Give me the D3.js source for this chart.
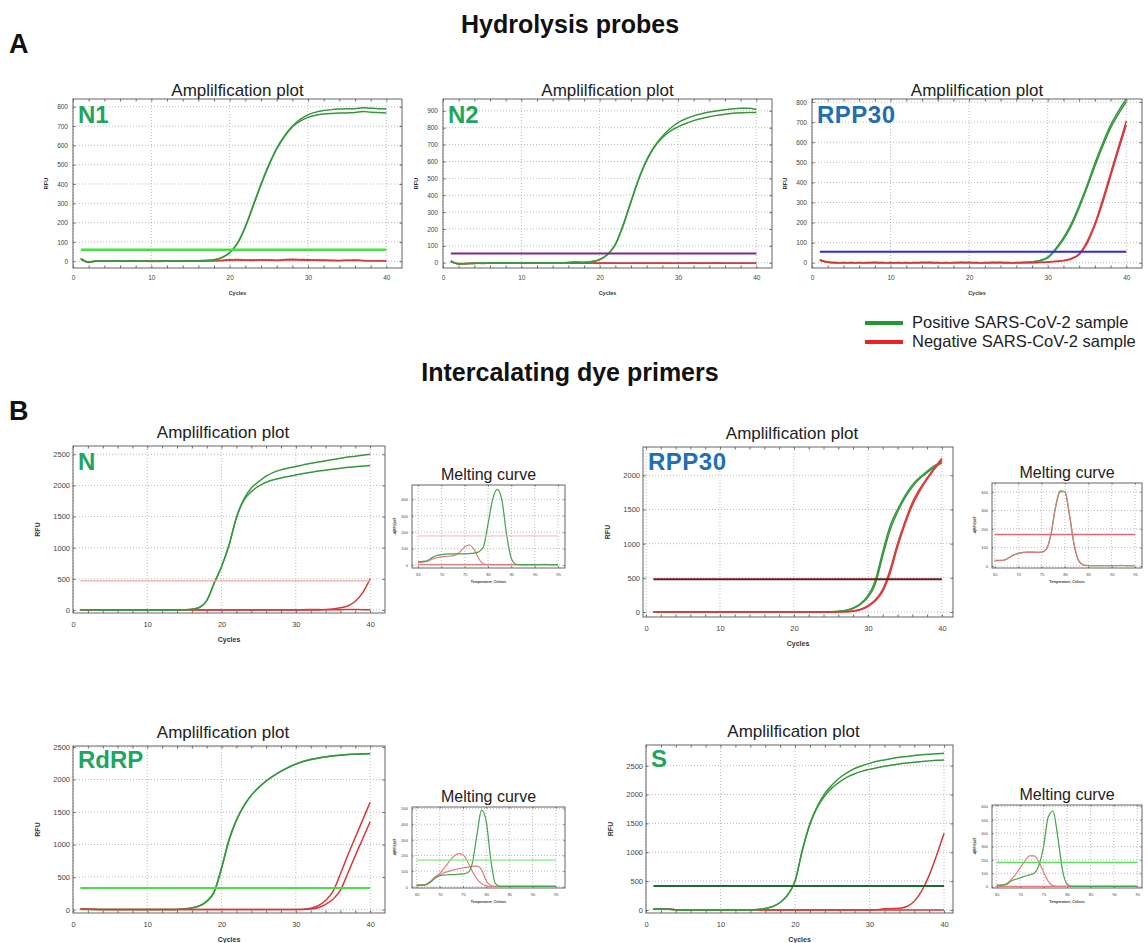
<!DOCTYPE html>
<html>
<head>
<meta charset="utf-8">
<script src="https://cdn.jsdelivr.net/npm/d3@7"></script>
<style>
  body { margin: 0; background: #fff; }
  svg { display: block; font-family: "Liberation Sans", Arial, sans-serif; }
</style>
</head>
<body>
<svg id="fig"></svg>
<script>
// figure size
const width = 1148;
const height = 943;

// x values
const cycles = [1,2,3,4,5,6,7,8,9,10,11,12,13,14,15,16,17,18,19,20,
  21,22,23,24,25,26,27,28,29,30,31,32,33,34,35,36,37,38,39,40];
const meltTemps = [65,66,67,68,69,70,71,72,73,74,75,76,77,78,79,80,
  81,82,83,84,85,86,87,88,89,90,91,92,93,94,95];

// tick labels
const cycleTicks = [0, 10, 20, 30, 40];
const cycleMinor = [0,2,4,6,8,10,12,14,16,18,20,22,24,26,28,30,32,34,36,38,40];
const tempTicks = [65, 70, 75, 80, 85, 90, 95];
const rfuTicks800 = [0,100,200,300,400,500,600,700,800];
const rfuTicks900 = [0,100,200,300,400,500,600,700,800,900];
const rfuTicks2000 = [0,500,1000,1500,2000];
const rfuTicks2500 = [0,500,1000,1500,2000,2500];
const meltTicks400 = [0,100,200,300,400];
const meltTicks500 = [0,100,200,300,400,500];
const meltTicks600 = [0,100,200,300,400,500,600];

// ---- A: hydrolysis probes (RFU per cycle) ----
const n1Pos1 = [15,-4,2,0,1,2,0,3,1,0,1,2,1,3,2,3,4,8,20,45,95,180,290,400,500,585,650,700,735,758,772,780,785,788,790,790,795,792,790,788];
const n1Pos2 = [12,-6,1,0,2,1,1,2,0,1,0,1,2,2,3,2,4,7,19,43,92,176,285,395,495,580,645,695,725,745,756,762,765,767,768,770,775,772,770,768];
const n1Neg1 = [12,-5,1,0,1,0,2,1,0,-1,0,1,0,1,0,1,2,3,5,8,9,7,6,8,7,5,9,10,9,8,7,6,5,4,5,6,4,3,3,2];
const n1Neg2 = [10,-3,0,1,0,1,0,0,1,0,-1,0,1,0,1,0,1,2,3,5,6,5,4,6,5,4,6,7,6,5,5,4,3,3,4,4,3,2,2,1];

const n2Pos1 = [12,-8,-5,-3,-2,-3,-2,-1,-2,-1,-2,-2,-1,-1,0,2,5,2,8,20,50,110,225,365,500,610,690,750,795,830,853,870,883,893,900,907,912,915,915,908];
const n2Pos2 = [10,-7,-6,-4,-3,-2,-2,-2,-1,-2,-1,-1,-2,-1,0,1,4,3,7,18,48,106,220,360,495,605,685,740,780,805,825,842,855,865,873,880,885,888,890,890];
const n2Neg1 = [8,-6,-5,-4,-3,-3,-2,-3,-2,-2,-3,-2,-2,-3,-2,-2,-1,-2,-1,-2,-1,-2,-3,-2,-1,-2,-2,-1,-2,-3,-2,-1,-2,-2,-1,-2,-3,-2,-2,-3];
const n2Neg2 = [6,-5,-4,-3,-4,-2,-3,-2,-3,-3,-2,-3,-3,-2,-3,-3,-2,-3,-2,-3,-2,-3,-2,-3,-2,-3,-3,-2,-3,-2,-3,-2,-3,-3,-2,-3,-2,-3,-3,-2];

const rpA_Pos1 = [14,2,0,1,0,1,0,2,1,0,1,0,1,2,1,0,1,0,2,1,0,1,2,1,0,1,2,5,12,28,70,125,195,285,385,495,595,685,755,815];
const rpA_Pos2 = [12,3,1,0,1,0,1,1,0,1,0,1,0,1,2,1,0,1,1,2,1,0,1,2,1,0,1,4,10,24,63,115,183,273,373,480,580,670,740,800];
const rpA_Neg1 = [13,3,0,1,0,1,0,1,0,1,0,1,0,1,0,1,0,1,0,1,0,1,0,1,0,1,0,1,2,4,7,12,22,45,105,195,315,445,575,705];
const rpA_Neg2 = [15,4,1,0,1,0,1,0,1,0,1,0,1,0,1,0,1,0,1,0,1,0,1,0,1,0,1,0,1,3,6,10,19,40,95,185,300,430,560,685];

// ---- B: intercalating dye primers ----
const nPos1 = [5,3,2,1,0,1,0,1,0,1,0,1,0,2,5,12,40,150,430,700,1040,1490,1780,1960,2060,2150,2210,2250,2280,2305,2330,2355,2375,2395,2415,2435,2455,2470,2485,2500];
const nPos2 = [5,3,2,1,0,1,0,1,0,1,0,1,0,2,5,12,40,150,430,700,1040,1480,1760,1900,1990,2050,2090,2120,2145,2168,2190,2210,2230,2245,2260,2275,2290,2300,2310,2318];
const nNeg1 = [3,2,1,0,1,0,-1,0,1,0,-1,0,1,0,1,0,-1,0,1,0,-1,0,1,0,-1,0,1,0,-1,0,1,0,2,8,18,35,65,140,280,500];
const nNeg2 = [4,2,1,0,-1,0,1,0,-1,0,1,0,-1,0,1,2,3,2,1,0,2,4,3,2,5,6,4,3,2,4,6,8,7,5,4,6,8,7,6,5];

const rpB_Pos1 = [5,3,1,0,0,0,0,0,0,0,0,0,0,0,0,0,0,0,0,0,0,0,0,0,2,10,25,60,125,240,460,880,1260,1500,1700,1860,1970,2060,2140,2200];
const rpB_Pos2 = [4,3,1,0,0,0,0,0,0,0,0,0,0,0,0,0,0,0,0,0,0,0,0,0,1,8,20,50,110,215,410,820,1200,1460,1670,1830,1950,2040,2120,2180];
const rpB_Neg1 = [3,2,1,0,0,0,0,0,0,0,0,0,0,0,0,0,0,0,0,0,0,0,0,0,0,2,5,15,40,95,180,330,620,1000,1320,1600,1800,1960,2110,2250];
const rpB_Neg2 = [3,2,1,0,0,0,0,0,0,0,0,0,0,0,0,0,0,0,0,0,0,0,0,0,0,1,4,12,32,80,160,300,570,950,1280,1560,1770,1940,2090,2220];

const rdPos1 = [5,4,3,2,1,0,1,0,1,0,0,1,0,3,12,28,60,130,280,650,1080,1380,1600,1760,1880,1980,2060,2130,2190,2240,2280,2310,2330,2350,2365,2375,2385,2390,2395,2398];
const rdPos2 = [4,3,2,1,0,0,1,0,0,1,0,0,1,2,10,25,55,122,265,630,1060,1370,1590,1755,1875,1975,2055,2125,2185,2235,2275,2305,2328,2347,2362,2373,2383,2388,2393,2396];
const rdNeg1 = [8,6,4,2,1,0,0,0,0,0,0,0,0,0,0,0,0,0,0,0,0,0,0,0,0,0,0,0,0,2,5,20,60,140,280,550,840,1110,1380,1650];
const rdNeg2 = [6,5,3,2,1,0,0,0,0,0,0,0,0,0,0,0,0,0,0,0,0,0,0,0,0,0,0,0,0,1,3,10,30,80,160,300,560,830,1090,1350];

const sPos1 = [20,18,15,5,0,1,0,1,0,1,0,1,0,2,10,25,60,130,260,500,1050,1500,1800,2020,2170,2290,2380,2450,2500,2540,2575,2600,2625,2645,2660,2675,2688,2698,2706,2713];
const sPos2 = [18,16,14,4,0,0,1,0,1,0,1,0,1,2,10,25,60,130,260,500,1040,1480,1780,1980,2120,2220,2300,2360,2405,2436,2465,2490,2510,2530,2545,2560,2572,2583,2592,2598];
const sNeg1 = [20,20,18,5,0,0,0,0,0,0,0,0,0,0,0,0,0,0,0,0,0,0,0,0,0,0,0,0,0,0,5,20,25,30,60,150,330,600,950,1330];
const sNeg2 = [15,14,12,4,0,0,0,0,0,0,0,0,0,0,0,0,0,0,0,0,0,0,0,0,0,0,0,0,0,0,0,0,0,0,0,0,0,0,0,0];

// melting curves, -d(RFU)/dT per degree 65..95
const nMeltPos = [20,22,28,45,58,63,66,68,68,68,68,70,72,80,110,250,400,460,390,180,40,5,2,2,3,2,3,4,3,2,2];
const nMeltNeg1 = [15,18,22,35,45,50,52,55,60,80,110,122,95,40,8,2,2,2,2,2,2,2,2,2,3,2,2,3,2,2,2];
const nMeltNeg2 = [3,3,2,2,2,2,2,2,2,2,2,2,2,2,2,2,2,2,2,2,2,2,2,2,2,2,2,2,2,2,2];

const rpMeltPos = [30,30,32,45,60,68,73,75,75,74,75,90,170,320,405,400,270,110,25,5,2,2,2,2,2,2,2,3,2,2,2];
const rpMeltNeg = [28,29,31,43,58,66,72,74,74,73,74,88,165,315,400,402,275,115,28,6,2,2,2,2,2,2,2,2,2,2,2];

const rdMeltPos = [10,10,12,30,55,70,75,77,78,80,82,90,150,330,490,420,170,20,3,2,2,2,2,2,2,2,2,2,2,2,2];
const rdMeltNeg1 = [10,10,15,35,65,85,120,160,195,212,205,160,100,50,20,6,2,2,2,2,2,2,2,2,2,2,2,2,2,2,2];
const rdMeltNeg2 = [10,10,14,32,60,78,90,100,108,115,120,125,130,132,110,40,8,2,2,2,2,2,2,2,2,2,2,2,2,2,2];

const sMeltPos = [10,12,15,40,55,65,78,88,100,160,300,520,565,380,130,20,3,2,2,2,2,2,2,2,2,2,2,2,2,2,2];
const sMeltNeg1 = [10,12,20,50,90,140,190,230,230,185,110,40,8,2,2,2,2,2,2,2,2,2,2,2,2,2,2,2,2,2,2];
const sMeltNeg2 = [2,2,2,2,2,2,2,2,2,2,2,2,2,2,2,2,2,2,2,2,2,2,2,2,2,2,2,2,2,2,2];

// thresholds
const thrN1 = 60, thrN2 = 55, thrRpA = 55;
const thrN = 468, thrRpB = 478, thrRd = 333, thrS = 416;
const thrMeltN = 177, thrMeltRp = 170, thrMeltRd = 170, thrMeltS = 181;

const green = "#1fa65e";
const blue = "#1f6fb2";

const svg = d3.select("#fig").attr("width", width).attr("height", height);
svg.append("rect").attr("width", width).attr("height", height).attr("fill", "#fff");

const drawPlot = (p) => {
  const [bx, by, bw, bh] = p.box;
  const x = d3.scaleLinear().domain(p.xDom).range([bx, bx + bw]);
  const y = d3.scaleLinear().domain(p.yDom).range([by + bh, by]);
  const g = svg.append("g");

  // dotted grid
  g.append("g").selectAll("line").data(p.xTicks).join("line")
    .attr("x1", (d) => x(d)).attr("x2", (d) => x(d))
    .attr("y1", by).attr("y2", by + bh)
    .attr("stroke", "#9c9c9c").attr("stroke-width", 0.7).attr("stroke-dasharray", "1,2");
  g.append("g").selectAll("line").data(p.yTicks).join("line")
    .attr("x1", bx).attr("x2", bx + bw)
    .attr("y1", (d) => y(d)).attr("y2", (d) => y(d))
    .attr("stroke", "#9c9c9c").attr("stroke-width", 0.7).attr("stroke-dasharray", "1,2");

  // small tick marks round the frame
  const minor = (sel) => {
    sel.select(".domain").remove();
    sel.selectAll("line").attr("stroke", "#444").attr("stroke-width", 0.8);
  };
  g.append("g").attr("transform", "translate(0," + (by + bh) + ")")
    .call(d3.axisBottom(x).tickValues(p.xMinor).tickSize(-p.tick).tickFormat("")).call(minor);
  g.append("g").attr("transform", "translate(0," + by + ")")
    .call(d3.axisTop(x).tickValues(p.xMinor).tickSize(-p.tick).tickFormat("")).call(minor);
  g.append("g").attr("transform", "translate(" + bx + ",0)")
    .call(d3.axisLeft(y).tickValues(p.yTicks).tickSize(-p.tick).tickFormat("")).call(minor);
  g.append("g").attr("transform", "translate(" + (bx + bw) + ",0)")
    .call(d3.axisRight(y).tickValues(p.yTicks).tickSize(-p.tick).tickFormat("")).call(minor);

  // tick labels
  const labels = (sel) => {
    sel.select(".domain").remove();
    sel.selectAll("text").attr("font-size", p.fs).attr("fill", "#444")
      .attr("font-family", "'Liberation Sans', Arial, sans-serif");
  };
  g.append("g").attr("transform", "translate(0," + (by + bh) + ")")
    .call(d3.axisBottom(x).tickValues(p.xTicks).tickSize(0).tickPadding(p.xPad)
      .tickFormat(d3.format("d"))).call(labels);
  g.append("g").attr("transform", "translate(" + bx + ",0)")
    .call(d3.axisLeft(y).tickValues(p.yTicks).tickSize(0).tickPadding(p.yPad)
      .tickFormat(d3.format("d"))).call(labels);

  // curves
  const line = d3.line()
    .x((d, i) => x(p.xs[i]))
    .y((d) => y(d))
    .curve(d3.curveMonotoneX);
  p.series.forEach((s) => {
    const pos = s.kind === "pos";
    g.append("path").attr("d", line(s.data)).attr("fill", "none")
      .attr("stroke", pos ? p.posColor : p.negColor)
      .attr("stroke-width", p.lw);
    g.append("path").attr("d", line(s.data)).attr("fill", "none")
      .attr("stroke", pos ? "#163a1e" : "#7a1616")
      .attr("stroke-opacity", p.coreOpacity)
      .attr("stroke-width", 0.5);
  });

  // threshold
  g.append("line")
    .attr("x1", x(p.thr.from)).attr("x2", x(p.thr.to))
    .attr("y1", y(p.thr.value)).attr("y2", y(p.thr.value))
    .attr("stroke", p.thr.color).attr("stroke-width", p.thr.width);

  // frame
  g.append("rect").attr("x", bx).attr("y", by).attr("width", bw).attr("height", bh)
    .attr("fill", "none").attr("stroke", "#666").attr("stroke-width", 1);

  // titles and labels
  g.append("text").attr("x", bx + bw / 2 + p.titleDx).attr("y", by - p.titleDy)
    .attr("text-anchor", "middle").attr("font-size", p.titleSize).attr("fill", "#222")
    .text(p.title);
  g.append("text").attr("x", bx + bw / 2).attr("y", by + bh + p.xLabDy)
    .attr("text-anchor", "middle").attr("font-size", p.labSize).attr("font-weight", "bold")
    .attr("fill", "#333").text(p.xLabel);
  g.append("text")
    .attr("transform", "translate(" + (bx - p.yLabDx) + "," + (by + bh / 2) + ") rotate(-90)")
    .attr("text-anchor", "middle").attr("font-size", p.labSize).attr("font-weight", "bold")
    .attr("fill", "#333").text(p.yLabel);

  if (p.gene) {
    g.append("text").attr("x", bx + 5).attr("y", by + p.gene.dy)
      .attr("font-size", 24).attr("font-weight", "bold").attr("fill", p.gene.color)
      .attr("letter-spacing", p.gene.ls || 0)
      .text(p.gene.text);
  }
};

const ampBase = {
  xs: cycles, xTicks: cycleTicks, xMinor: cycleMinor, tick: 2.5,
  title: "Amplilfication plot", xLabel: "Cycles", yLabel: "RFU",
  posColor: "#46b04c", negColor: "#ec4848", lw: 1.5, coreOpacity: 0.6,
};

const ampA = Object.assign({}, ampBase, {
  fs: 6.5, xPad: 7, yPad: 5, titleSize: 17, titleDx: 0, titleDy: 3, labSize: 5.5,
  xLabDy: 27, yLabDx: 25,
});
const ampB = Object.assign({}, ampBase, {
  fs: 7.5, xPad: 9, yPad: 3, titleSize: 17, titleDx: -6, titleDy: 8, labSize: 7,
  xLabDy: 29, yLabDx: 33,
});
const meltBase = {
  xs: meltTemps, xTicks: tempTicks, xMinor: tempTicks, tick: 1.5,
  title: "Melting curve", xLabel: "Temperature, Celsius", yLabel: "-d(RFU)/dT",
  fs: 4, xPad: 5, yPad: 4, titleSize: 16, titleDx: 0, titleDy: 5, labSize: 3.5,
  xLabDy: 15, yLabDx: 16, posColor: "#52b55a", negColor: "#f29090", lw: 1.2, coreOpacity: 0.35,
};

// Panel A
drawPlot(Object.assign({}, ampA, {
  box: [73, 99, 329, 169], xDom: [0, 42], yDom: [-35, 840], yTicks: rfuTicks800,
  series: [{ data: n1Neg1, kind: "neg" }, { data: n1Neg2, kind: "neg" },
           { data: n1Pos1, kind: "pos" }, { data: n1Pos2, kind: "pos" }],
  thr: { value: thrN1, color: "#45e045", width: 2.5, from: 1, to: 40 },
  gene: { text: "N1", color: green, dy: 24 },
}));
drawPlot(Object.assign({}, ampA, {
  box: [443, 99, 329, 169], xDom: [0, 42], yDom: [-31, 970], yTicks: rfuTicks900,
  series: [{ data: n2Neg1, kind: "neg" }, { data: n2Neg2, kind: "neg" },
           { data: n2Pos1, kind: "pos" }, { data: n2Pos2, kind: "pos" }],
  thr: { value: thrN2, color: "#7a2a8c", width: 2, from: 1, to: 40 },
  gene: { text: "N2", color: green, dy: 24 },
}));
drawPlot(Object.assign({}, ampA, {
  box: [812, 99, 330, 169], xDom: [0, 42], yDom: [-26, 815], yTicks: rfuTicks800,
  series: [{ data: rpA_Pos1, kind: "pos" }, { data: rpA_Pos2, kind: "pos" },
           { data: rpA_Neg1, kind: "neg" }, { data: rpA_Neg2, kind: "neg" }],
  thr: { value: thrRpA, color: "#2a2ae0", width: 2, from: 1, to: 40 },
  gene: { text: "RPP30", color: blue, dy: 24, ls: 0.5 },
}));

// Panel B amplification
drawPlot(Object.assign({}, ampB, {
  box: [73, 446, 312, 167], xDom: [0, 42], yDom: [-48, 2633], yTicks: rfuTicks2500,
  series: [{ data: nNeg2, kind: "neg" }, { data: nNeg1, kind: "neg" },
           { data: nPos1, kind: "pos" }, { data: nPos2, kind: "pos" }],
  thr: { value: thrN, color: "#f5a8a8", width: 1.3, from: 1, to: 40 },
  gene: { text: "N", color: green, dy: 24 },
}));
drawPlot(Object.assign({}, ampB, {
  box: [643, 447, 310, 170], xDom: [-0.4, 41.5], yDom: [-73, 2414], yTicks: rfuTicks2000,
  series: [{ data: rpB_Pos1, kind: "pos" }, { data: rpB_Pos2, kind: "pos" },
           { data: rpB_Neg1, kind: "neg" }, { data: rpB_Neg2, kind: "neg" }],
  thr: { value: thrRpB, color: "#6e1a1a", width: 2, from: 1, to: 40 },
  gene: { text: "RPP30", color: blue, dy: 23, ls: 0.5 },
}));
drawPlot(Object.assign({}, ampB, {
  box: [73, 746, 312, 167], xDom: [0, 42], yDom: [-52, 2515], yTicks: rfuTicks2500,
  series: [{ data: rdPos1, kind: "pos" }, { data: rdPos2, kind: "pos" },
           { data: rdNeg1, kind: "neg" }, { data: rdNeg2, kind: "neg" }],
  thr: { value: thrRd, color: "#45e045", width: 2, from: 1, to: 40 },
  gene: { text: "RdRP", color: green, dy: 22 },
}));
drawPlot(Object.assign({}, ampB, {
  box: [646, 745, 307, 168], xDom: [0, 41.2], yDom: [-52, 2858], yTicks: rfuTicks2500,
  series: [{ data: sNeg2, kind: "neg" }, { data: sNeg1, kind: "neg" },
           { data: sPos1, kind: "pos" }, { data: sPos2, kind: "pos" }],
  thr: { value: thrS, color: "#1e6a2c", width: 2, from: 1, to: 40 },
  gene: { text: "S", color: green, dy: 22 },
}));

// Panel B melting curves
drawPlot(Object.assign({}, meltBase, {
  box: [412, 485, 153, 83], xDom: [63.7, 96.5], yDom: [-18, 487], yTicks: meltTicks400,
  series: [{ data: nMeltNeg2, kind: "neg" }, { data: nMeltNeg1, kind: "neg" },
           { data: nMeltPos, kind: "pos" }],
  thr: { value: thrMeltN, color: "#f7b8b8", width: 1, from: 65, to: 95 },
}));
drawPlot(Object.assign({}, meltBase, {
  box: [992, 483, 150, 85], xDom: [64.4, 96.5], yDom: [-11, 448], yTicks: meltTicks400,
  series: [{ data: rpMeltPos, kind: "pos" }, { data: rpMeltNeg, kind: "neg" }],
  thr: { value: thrMeltRp, color: "#e26a6a", width: 1.4, from: 65, to: 95 },
}));
drawPlot(Object.assign({}, meltBase, {
  box: [412, 807, 153, 81], xDom: [64, 97], yDom: [-8, 510], yTicks: meltTicks500,
  series: [{ data: rdMeltNeg2, kind: "neg" }, { data: rdMeltNeg1, kind: "neg" },
           { data: rdMeltPos, kind: "pos" }],
  thr: { value: thrMeltRd, color: "#86e486", width: 1.4, from: 65, to: 95 },
}));
drawPlot(Object.assign({}, meltBase, {
  box: [992, 805, 150, 83], xDom: [64, 96], yDom: [-10, 610], yTicks: meltTicks600,
  series: [{ data: sMeltNeg2, kind: "neg" }, { data: sMeltNeg1, kind: "neg" },
           { data: sMeltPos, kind: "pos" }],
  thr: { value: thrMeltS, color: "#62d862", width: 1.5, from: 65, to: 95 },
}));

// headings
const heading = (txt, xx, yy, size, anchor) =>
  svg.append("text").attr("x", xx).attr("y", yy).attr("font-size", size)
    .attr("font-weight", "bold").attr("fill", "#111").attr("text-anchor", anchor).text(txt);
heading("Hydrolysis probes", 570, 33, 25, "middle");
heading("Intercalating dye primers", 570, 381, 25, "middle");
heading("A", 9, 53, 27, "start");
heading("B", 9, 420, 27, "start");

// legend
const legendItems = [
  { label: "Positive SARS-CoV-2 sample", color: "#1e9a2e" },
  { label: "Negative SARS-CoV-2 sample", color: "#ee2222" },
];
const legend = svg.append("g");
legend.selectAll("line").data(legendItems).join("line")
  .attr("x1", 865).attr("x2", 903)
  .attr("y1", (d, i) => 323 + i * 19).attr("y2", (d, i) => 323 + i * 19)
  .attr("stroke", (d) => d.color).attr("stroke-width", 4);
legend.selectAll("text").data(legendItems).join("text")
  .attr("x", 912).attr("y", (d, i) => 328 + i * 19)
  .attr("font-size", 16.5).attr("fill", "#222").text((d) => d.label);
</script>
</body>
</html>
